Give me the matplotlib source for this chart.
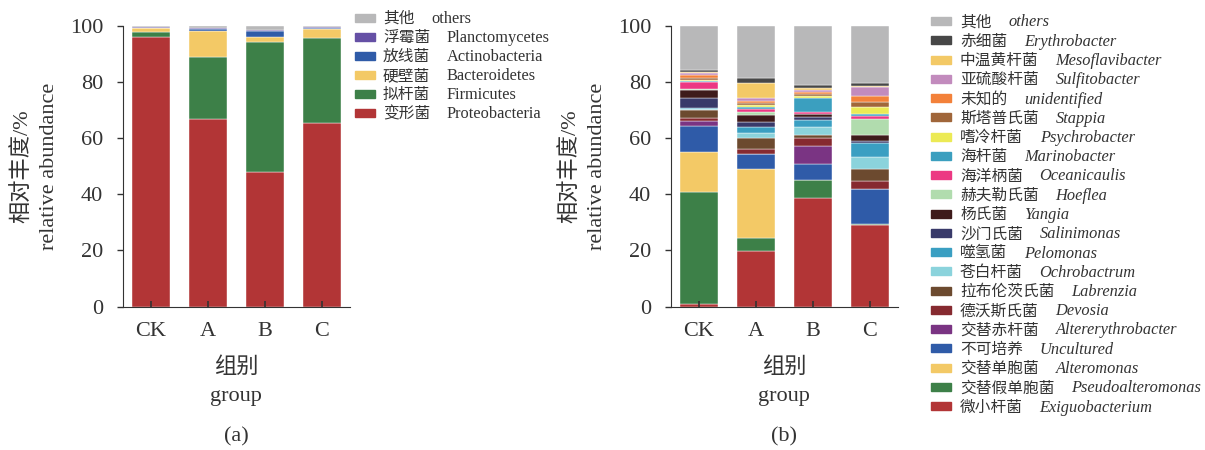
import numpy as np
import matplotlib
matplotlib.use('Agg')
import matplotlib.pyplot as plt
from matplotlib.patches import Rectangle

plt.rcParams['font.family'] = ['Liberation Serif', 'Noto Sans CJK SC']
plt.rcParams['text.color'] = '#333333'
plt.rcParams['axes.edgecolor'] = '#333333'
plt.rcParams['xtick.color'] = '#333333'
plt.rcParams['ytick.color'] = '#333333'

groups = ['CK', 'A', 'B', 'C']

# (a) phylum level, bottom -> top
proteobacteria = [96.2, 66.7, 48.0, 65.5]
firmicutes = [1.5, 22.4, 46.3, 30.3]
bacteroidetes = [1.5, 9.2, 1.8, 3.1]
actinobacteria = [0.2, 0.7, 2.0, 0.5]
planctomycetes = [0.2, 0.2, 0.4, 0.2]
others_a = [0.4, 0.8, 1.5, 0.4]

# (b) genus level, bottom -> top
exiguobacterium = [1.0, 19.8, 38.7, 29.1]
pseudoalteromonas = [39.9, 4.5, 6.4, 0.4]
alteromonas = [14.1, 24.8, 0.0, 0.0]
uncultured = [9.3, 5.3, 5.8, 12.4]
altererythrobacter = [1.8, 0.0, 6.3, 0.0]
devosia = [1.1, 1.7, 3.0, 2.7]
labrenzia = [3.0, 4.0, 0.9, 4.3]
ochrobactrum = [0.3, 1.9, 2.8, 4.4]
pelomonas = [0.3, 2.0, 2.7, 5.0]
salinimonas = [3.4, 1.8, 1.1, 0.6]
yangia = [3.0, 2.4, 0.8, 2.3]
hoeflea = [0.5, 1.3, 0.3, 5.8]
oceanicaulis = [2.4, 1.0, 0.5, 0.9]
marinobacter = [0.3, 0.5, 5.0, 0.6]
psychrobacter = [0.4, 0.8, 0.9, 2.7]
stappia = [0.8, 0.7, 0.7, 1.8]
unidentified = [0.9, 0.6, 0.6, 2.1]
sulfitobacter = [0.8, 1.1, 0.7, 3.2]
mesoflavibacter = [0.3, 5.6, 0.6, 0.4]
erythrobacter = [0.8, 1.5, 1.2, 0.9]
others_b = [15.6, 18.7, 21.0, 20.4]

series_a = [
    ('变形菌', 'Proteobacteria', proteobacteria, '#b23536'),
    ('拟杆菌', 'Firmicutes', firmicutes, '#3d8048'),
    ('硬壁菌', 'Bacteroidetes', bacteroidetes, '#f3c966'),
    ('放线菌', 'Actinobacteria', actinobacteria, '#2f5ba8'),
    ('浮霉菌', 'Planctomycetes', planctomycetes, '#6550a5'),
    ('其他', 'others', others_a, '#b8b8b9'),
]
series_b = [
    ('微小杆菌', 'Exiguobacterium', exiguobacterium, '#b23536'),
    ('交替假单胞菌', 'Pseudoalteromonas', pseudoalteromonas, '#3d8048'),
    ('交替单胞菌', 'Alteromonas', alteromonas, '#f3c966'),
    ('不可培养', 'Uncultured', uncultured, '#2f5ba8'),
    ('交替赤杆菌', 'Altererythrobacter', altererythrobacter, '#7a3483'),
    ('德沃斯氏菌', 'Devosia', devosia, '#862a30'),
    ('拉布伦茨氏菌', 'Labrenzia', labrenzia, '#6c4a2f'),
    ('苍白杆菌', 'Ochrobactrum', ochrobactrum, '#8bd3dc'),
    ('噬氢菌', 'Pelomonas', pelomonas, '#3a9fc2'),
    ('沙门氏菌', 'Salinimonas', salinimonas, '#393a6a'),
    ('杨氏菌', 'Yangia', yangia, '#3e1b1b'),
    ('赫夫勒氏菌', 'Hoeflea', hoeflea, '#b1dcae'),
    ('海洋柄菌', 'Oceanicaulis', oceanicaulis, '#ec3883'),
    ('海杆菌', 'Marinobacter', marinobacter, '#3b9fbf'),
    ('嗜冷杆菌', 'Psychrobacter', psychrobacter, '#ecea55'),
    ('斯塔普氏菌', 'Stappia', stappia, '#a0663a'),
    ('未知的', 'unidentified', unidentified, '#f3813a'),
    ('亚硫酸杆菌', 'Sulfitobacter', sulfitobacter, '#c28bbd'),
    ('中温黄杆菌', 'Mesoflavibacter', mesoflavibacter, '#f3c966'),
    ('赤细菌', 'Erythrobacter', erythrobacter, '#474747'),
    ('其他', 'others', others_b, '#b8b8b9'),
]

W, H = 1205, 450
fig = plt.figure(figsize=(W / 100, H / 100), dpi=100)


def fx(px):
    return px / W


def fy(py):
    return 1 - py / H


def draw_panel(ax, series, tag):
    x = np.arange(len(groups))
    bottom = np.zeros(len(groups))
    for cn, en, vals, col in series:
        ax.bar(x, vals, 0.67, bottom=bottom, color=col,
               edgecolor='white', linewidth=0.3)
        bottom += np.array(vals)
    ax.set_xlim(-0.5, 3.5)
    ax.set_ylim(0, 100)
    ax.set_xticks(x)
    ax.set_xticklabels(groups)
    ax.set_yticks(range(0, 101, 20))
    for s in ('top', 'right'):
        ax.spines[s].set_visible(False)
    ax.tick_params(axis='y', direction='out', length=4, width=1,
                   pad=10, labelsize=16)
    ax.tick_params(axis='x', direction='in', length=4, width=1.2,
                   pad=11, labelsize=16)
    ax.text(-0.44, 0.5, '相对丰度/%', transform=ax.transAxes, rotation=90,
            ha='center', va='center', fontsize=16)
    ax.text(-0.324, 0.5, 'relative abundance', transform=ax.transAxes,
            rotation=90, ha='center', va='center', fontsize=16)
    ax.text(0.5, -0.236, '组别', transform=ax.transAxes, ha='center',
            va='baseline', fontsize=16)
    ax.text(0.5, -0.337, 'group', transform=ax.transAxes, ha='center',
            va='baseline', fontsize=16)
    ax.text(0.5, -0.483, tag, transform=ax.transAxes, ha='center',
            va='baseline', fontsize=16)


def draw_legend(series, patch_x, text_x, y0, step, italic):
    for i, (cn, en, vals, col) in enumerate(series[::-1]):
        yc = y0 + i * step
        fig.patches.append(Rectangle((fx(patch_x), fy(yc + 4)), 20 / W, 8 / H,
                                     transform=fig.transFigure, color=col))
        t = fig.text(fx(text_x), fy(yc + 5.5), cn, fontsize=11.3,
                     va='baseline', ha='left')
        plt.annotate(en, xy=(1, fy(yc + 5.5)),
                     xycoords=(t, 'figure fraction'),
                     xytext=(12, 0), textcoords='offset points',
                     va='baseline', ha='left', fontsize=11.8,
                     style='italic' if italic else 'normal')


ax1 = fig.add_axes([fx(122.7), fy(306.5), fx(227.3), 280.5 / H])
draw_panel(ax1, series_a, '(a)')
ax2 = fig.add_axes([fx(670.7), fy(306.5), fx(227.3), 280.5 / H])
draw_panel(ax2, series_b, '(b)')

draw_legend(series_a, 355, 383, 17.6, 19.0, False)
draw_legend(series_b, 931, 960, 21.0, 19.25, True)

fig.savefig('out.png', dpi=100)
